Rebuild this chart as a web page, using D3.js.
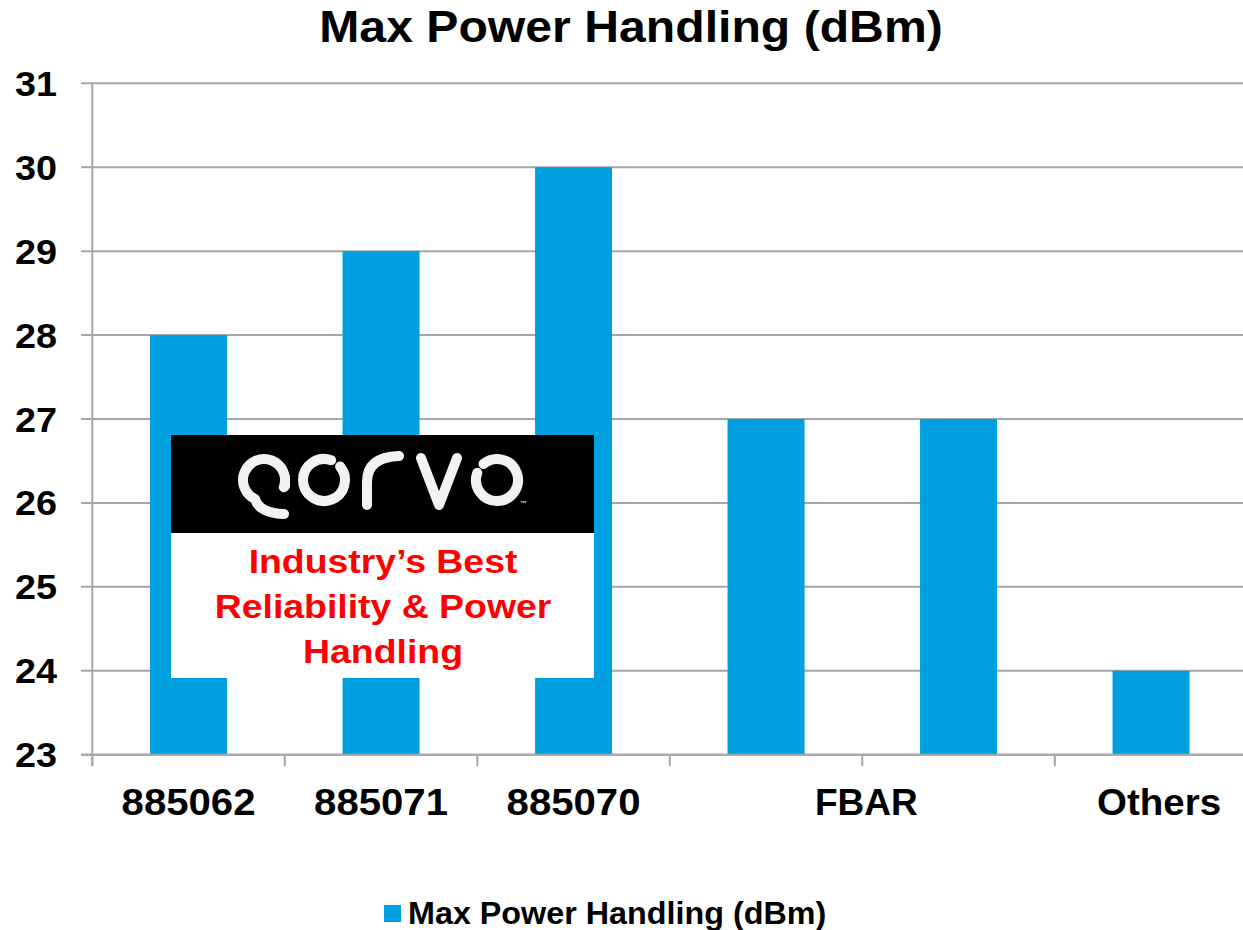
<!DOCTYPE html>
<html><head><meta charset="utf-8">
<script src="https://cdn.jsdelivr.net/npm/d3@7"></script>
<style>
body{margin:0;background:#fff}
svg{display:block}
text{font-family:"Liberation Sans",Arial,Helvetica,sans-serif;font-weight:bold}
</style>
</head><body>
<svg id="c" width="1243" height="930"></svg>
<script>
// ---- data ----
const categories = ["885062","885071","885070","FBAR-1","FBAR-2","Others"];
const values = [28,29,30,27,27,24];
const yTicks = [23,24,25,26,27,28,29,30,31];
const xLabelText = ["885062","885071","885070","FBAR","Others"];
const xLabelSpans = [["885062","885062"],["885071","885071"],["885070","885070"],["FBAR-1","FBAR-2"],["Others","Others"]];
const seriesName = "Max Power Handling (dBm)";
const chartTitle = "Max Power Handling (dBm)";
const calloutLines = ["Industry\u2019s Best","Reliability & Power","Handling"];
const logoText = "qorvo";

// ---- setup ----
const svg = d3.select("#c");
const W = 1243;
const x = d3.scaleBand().domain(categories).range([92.3, 1247.3]).paddingInner(0.6).paddingOuter(0.3);
const y = d3.scaleLinear().domain([23,31]).range([754.7, 83.3]);
const step = x.step(), bw = x.bandwidth();
const gap = (step - bw) / 2;
const grid = "#a6a6a6";
const blue = "#009fe0";

function stretchedText(g, str, tx, ty, size, sx, anchor, fill) {
  return g.append("text")
    .attr("transform", `translate(${tx},${ty}) scale(${sx},1)`)
    .attr("text-anchor", anchor)
    .attr("font-size", size)
    .attr("fill", fill || "#000")
    .text(str);
}

// title
stretchedText(svg, chartTitle, 631, 41.7, 44, 1.095, "middle");

// grid lines
svg.append("g").selectAll("line").data(yTicks).join("line")
  .attr("x1", 81).attr("x2", W)
  .attr("y1", d => y(d)).attr("y2", d => y(d))
  .attr("stroke", grid).attr("stroke-width", 2);

// y labels
const yl = svg.append("g");
yTicks.forEach(t => stretchedText(yl, String(t), 57, y(t) + 12.5, 35, 1.08, "end"));

// bars
svg.append("g").selectAll("rect").data(values).join("rect")
  .attr("x", (d,i) => x(categories[i]))
  .attr("width", bw)
  .attr("y", d => y(d))
  .attr("height", d => y(23) - y(d))
  .attr("fill", blue);

// y axis line
const x0 = x.range()[0];
svg.append("line").attr("x1", x0).attr("x2", x0).attr("y1", y(31)).attr("y2", y(23) + 11.5)
  .attr("stroke", grid).attr("stroke-width", 2);
// x axis line + ticks at band boundaries
svg.append("line").attr("x1", 81).attr("x2", W).attr("y1", y(23)).attr("y2", y(23))
  .attr("stroke", grid).attr("stroke-width", 2);
const bounds = categories.map(c => x(c) - gap).concat([x(categories[categories.length-1]) + bw + gap]);
svg.append("g").selectAll("line").data(bounds).join("line")
  .attr("x1", d => d).attr("x2", d => d)
  .attr("y1", y(23)).attr("y2", y(23) + 11.5)
  .attr("stroke", grid).attr("stroke-width", 2);

// x labels
const xl = svg.append("g");
xLabelText.forEach((t, i) => {
  const [a, b] = xLabelSpans[i];
  let cx = (x(a) + x(b) + bw) / 2;
  let sx = 1.085;
  if (t === "FBAR") { cx += 4; sx = 1.0; }
  if (t === "Others") { cx += 8; sx = 1.04; }
  stretchedText(xl, t, cx, 815, 37, sx, "middle");
});

// callout box
const bx = 171, by = 435, bwid = 423, bhTop = 98, bh = 243;
const cg = svg.append("g");
cg.append("rect").attr("x", bx).attr("y", by).attr("width", bwid).attr("height", bh).attr("fill", "#fff");
cg.append("rect").attr("x", bx).attr("y", by).attr("width", bwid).attr("height", bhTop).attr("fill", "#000");

// logo strokes
const lg = cg.append("g").attr("fill", "none").attr("stroke", "#f2f2f2")
  .attr("stroke-width", 10).attr("stroke-linecap", "round").attr("stroke-linejoin", "round");
function pt(cx, cy, r, deg) { const a = deg * Math.PI / 180; return [cx + r*Math.cos(a), cy + r*Math.sin(a)]; }
function arc(cx, cy, r, a0, a1, sweep) {
  const p0 = pt(cx,cy,r,a0), p1 = pt(cx,cy,r,a1);
  const large = Math.abs(a1 - a0) > 180 ? 1 : 0;
  return `M${p0[0]},${p0[1]} A${r},${r} 0 ${large} ${sweep} ${p1[0]},${p1[1]}`;
}
const R = 21, LY = 480;
// q
{
  const cx = 264;
  const end = pt(cx, LY, R, 115);
  lg.append("path").attr("d", arc(cx, LY, R, 20, 115-360, 0) +
     ` Q${end[0]+4},${end[1]+14} ${cx+20},${LY+34}`);
  lg.append("path").attr("d", `M${cx+R},${LY-2} L${cx+R},${LY+6}`);
}
// o1
lg.append("path").attr("d", arc(324, LY, R, -40, -70 + 360, 1));
// r
lg.append("path").attr("d", `M367,${LY+25} L367,${LY+2} Q367,${LY-23} 399,${LY-24}`);
// v
lg.append("path").attr("d", `M421,${LY-22} L439,${LY+25} L457,${LY-22}`);
// o2
lg.append("path").attr("d", arc(497, LY, R, -130, -160 + 360, 1));
cg.append("text").attr("x", 520).attr("y", 506).attr("font-size", 7).attr("fill", "#ccc").text("\u2122");
cg.append("title").text(logoText);

// red callout text
calloutLines.forEach((t, i) => stretchedText(cg, t, 383, 573 + i * 45, 34, 1.1, "middle", "#ff0000"));

// legend
svg.append("rect").attr("x", 384).attr("y", 905).attr("width", 17).attr("height", 17).attr("fill", blue);
stretchedText(svg, seriesName, 408, 924.3, 30.5, 1.06, "start");
</script>
</body></html>
